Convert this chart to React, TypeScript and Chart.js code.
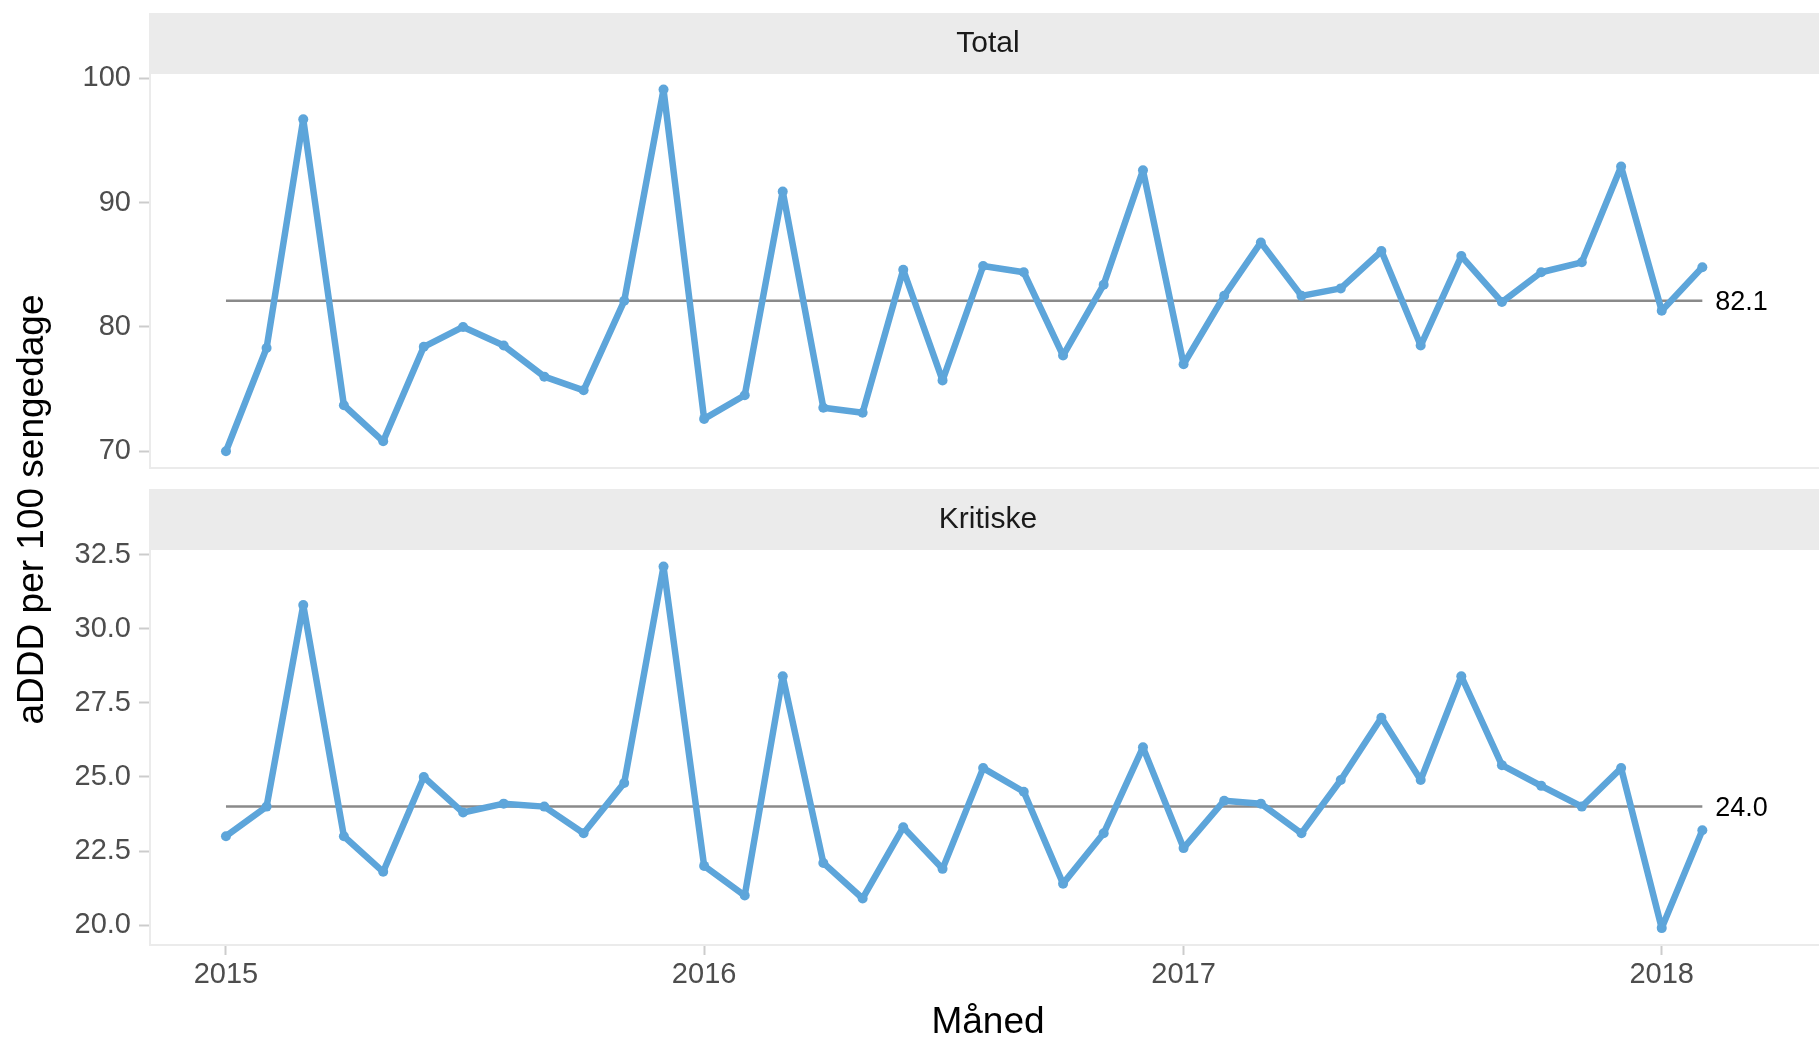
import React, { useEffect, useRef } from "react";
import { Chart, registerables } from "chart.js";

Chart.register(...registerables);

// ---------- data ----------
const months = [
  "2015-01", "2015-02", "2015-03", "2015-04", "2015-05", "2015-06",
  "2015-07", "2015-08", "2015-09", "2015-10", "2015-11", "2015-12",
  "2016-01", "2016-02", "2016-03", "2016-04", "2016-05", "2016-06",
  "2016-07", "2016-08", "2016-09", "2016-10", "2016-11", "2016-12",
  "2017-01", "2017-02", "2017-03", "2017-04", "2017-05", "2017-06",
  "2017-07", "2017-08", "2017-09", "2017-10", "2017-11", "2017-12",
  "2018-01", "2018-02",
];

const totalValues = [
  70.0, 78.3, 96.7, 73.7, 70.8, 78.4, 80.0, 78.5, 76.0, 74.9, 82.1, 99.1,
  72.6, 74.5, 90.9, 73.5, 73.1, 84.6, 75.7, 84.9, 84.4, 77.7, 83.4, 92.6,
  77.0, 82.5, 86.8, 82.5, 83.1, 86.1, 78.5, 85.7, 82.0, 84.4, 85.2, 92.9,
  81.3, 84.8,
];

const kritiskeValues = [
  23.0, 24.0, 30.8, 23.0, 21.8, 25.0, 23.8, 24.1, 24.0, 23.1, 24.8, 32.1,
  22.0, 21.0, 28.4, 22.1, 20.9, 23.3, 21.9, 25.3, 24.5, 21.4, 23.1, 26.0,
  22.6, 24.2, 24.1, 23.1, 24.9, 27.0, 24.9, 28.4, 25.4, 24.7, 24.0, 25.3,
  19.9, 23.2,
];

const totalReference = 82.1;
const kritiskeReference = 24.0;

const yearTickDates = ["2015-01-01", "2016-01-01", "2017-01-01", "2018-01-01"];
const yearTickLabels = ["2015", "2016", "2017", "2018"];

const totalTicks = [70, 80, 90, 100];
const kritiskeTicks = [20, 22.5, 25, 27.5, 30, 32.5];

const panelTitles = ["Total", "Kritiske"];
const xTitle = "Måned";
const yTitle = "aDDD per 100 sengedage";

// ---------- helpers ----------
const DAY = 86400000;
const ORIGIN = Date.UTC(2015, 0, 1);
const toDay = (s: string) => {
  const [y, m, d] = s.split("-").map(Number);
  return (Date.UTC(y, m - 1, d || 1) - ORIGIN) / DAY;
};
const monthDays = months.map((m) => toDay(m));
const yearTickDays = yearTickDates.map(toDay);

const FONT = "'Liberation Sans', Arial, Helvetica, sans-serif";
const BLUE = "#5DA5DA";
const REF_GRAY = "#8A8A8A";
const AXIS_LINE = "#EBEBEB";
const TICK_COLOR = "#CCCCCC";
const STRIP_BG = "#EBEBEB";

const W = 1819;
const H = 1039;
const CW = 1840; // canvas wider than the page: the panels run past the right edge

const panelDecor = {
  id: "panelDecor",
  afterDraw(chart: any, _args: any, opts: any) {
    const { ctx, chartArea } = chart;
    const { left, right, top } = chartArea;
    ctx.save();
    // strip
    ctx.fillStyle = STRIP_BG;
    ctx.fillRect(left - 1, top - 61, right - left + 1, 61);
    ctx.fillStyle = "#1A1A1A";
    ctx.font = `30px ${FONT}`;
    ctx.textAlign = "center";
    ctx.textBaseline = "alphabetic";
    ctx.fillText(opts.strip, (left + right) / 2, top - 22);
    // reference label
    const xs = chart.scales.x;
    const ys = chart.scales.y;
    ctx.fillStyle = "#000000";
    ctx.font = `27px ${FONT}`;
    ctx.textAlign = "left";
    ctx.textBaseline = "middle";
    ctx.fillText(
      opts.refValue.toFixed(1),
      xs.getPixelForValue(opts.refEnd) + 13,
      ys.getPixelForValue(opts.refValue) + 2
    );
    // y title
    if (opts.yTitle) {
      ctx.translate(33, 509.5);
      ctx.rotate(-Math.PI / 2);
      ctx.font = `37px ${FONT}`;
      ctx.textAlign = "center";
      ctx.textBaseline = "middle";
      ctx.fillStyle = "#000000";
      ctx.fillText(opts.yTitle, 0, 0);
    }
    ctx.restore();
  },
};

function makeConfig(
  values: number[],
  refValue: number,
  yTicks: number[],
  yMin: number,
  yMax: number,
  decimals: number,
  strip: string,
  bottomPanel: boolean
): any {
  const xFirst = monthDays[0];
  const xLast = monthDays[monthDays.length - 1];
  return {
    type: "line",
    data: {
      datasets: [
        {
          data: months.map((_, i) => ({ x: monthDays[i], y: values[i] })),
          borderColor: BLUE,
          backgroundColor: BLUE,
          borderWidth: 6.5,
          pointRadius: 5,
          pointBorderWidth: 0,
          pointBackgroundColor: BLUE,
          borderJoinStyle: "round",
          borderCapStyle: "round",
          tension: 0,
        },
        {
          data: [
            { x: xFirst, y: refValue },
            { x: xLast, y: refValue },
          ],
          borderColor: REF_GRAY,
          borderWidth: 2.5,
          pointRadius: 0,
          tension: 0,
        },
      ],
    },
    options: {
      responsive: false,
      animation: false,
      devicePixelRatio: 1,
      events: [],
      layout: {
        padding: bottomPanel
          ? { left: 0, right: CW - 1826, top: 550, bottom: 0 }
          : { left: 0, right: CW - 1826, top: 74, bottom: H - 468 },
      },
      plugins: {
        legend: { display: false },
        tooltip: { enabled: false },
        panelDecor: {
          strip,
          refValue,
          refEnd: xLast,
          yTitle: bottomPanel ? yTitle : null,
        },
      },
      scales: {
        x: {
          type: "linear",
          min: -58,
          max: 1221.4,
          afterBuildTicks: (axis: any) => {
            axis.ticks = yearTickDays.map((v) => ({ value: v }));
          },
          afterFit: (axis: any) => {
            axis.height = bottomPanel ? H - 945 : 0;
          },
          ticks: {
            display: bottomPanel,
            color: "#4D4D4D",
            font: { family: FONT, size: 29 },
            padding: 3,
            maxRotation: 0,
            autoSkip: false,
            callback: (v: number) => {
              const i = yearTickDays.indexOf(v);
              return i >= 0 ? yearTickLabels[i] : "";
            },
          },
          grid: {
            drawOnChartArea: false,
            drawTicks: bottomPanel,
            tickLength: 10,
            tickColor: TICK_COLOR,
            tickWidth: 2,
          },
          border: { display: true, color: AXIS_LINE, width: 2 },
          title: {
            display: bottomPanel,
            text: xTitle,
            color: "#000000",
            font: { family: FONT, size: 37, lineHeight: 1.0 },
            padding: { top: 0, bottom: -2 },
          },
        },
        y: {
          type: "linear",
          min: yMin,
          max: yMax,
          afterBuildTicks: (axis: any) => {
            axis.ticks = yTicks.map((v) => ({ value: v }));
          },
          afterFit: (axis: any) => {
            axis.width = 150;
          },
          ticks: {
            color: "#4D4D4D",
            font: { family: FONT, size: 29 },
            padding: 8,
            callback: (v: number) => v.toFixed(decimals),
          },
          grid: {
            drawOnChartArea: false,
            tickLength: 11,
            tickColor: TICK_COLOR,
            tickWidth: 2,
          },
          border: { display: true, color: AXIS_LINE, width: 2 },
        },
      },
    },
    plugins: [panelDecor],
  };
}

export default function App() {
  const topRef = useRef<HTMLCanvasElement | null>(null);
  const bottomRef = useRef<HTMLCanvasElement | null>(null);

  useEffect(() => {
    document.body.style.margin = "0";
    document.body.style.background = "#FFFFFF";
    const a = new Chart(
      topRef.current as HTMLCanvasElement,
      makeConfig(totalValues, totalReference, totalTicks, 68.65, 100.35, 0, panelTitles[0], false)
    );
    const b = new Chart(
      bottomRef.current as HTMLCanvasElement,
      makeConfig(kritiskeValues, kritiskeReference, kritiskeTicks, 19.33, 32.66, 1, panelTitles[1], true)
    );
    return () => {
      a.destroy();
      b.destroy();
    };
  }, []);

  const canvasStyle: React.CSSProperties = {
    position: "absolute",
    left: 0,
    top: 0,
    width: CW,
    height: H,
  };

  return (
    <div style={{ position: "relative", width: W, height: H, overflow: "hidden", background: "#FFFFFF" }}>
      <canvas ref={topRef} width={CW} height={H} style={canvasStyle} />
      <canvas ref={bottomRef} width={CW} height={H} style={canvasStyle} />
    </div>
  );
}
